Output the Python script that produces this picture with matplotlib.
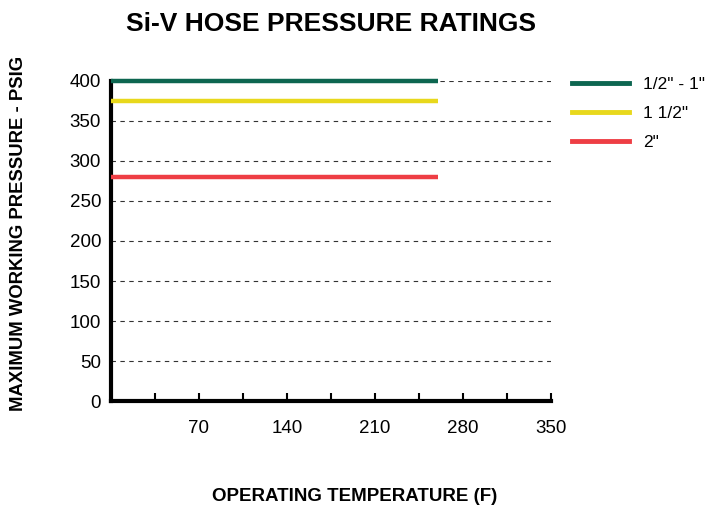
import matplotlib
matplotlib.use("Agg")
import matplotlib.pyplot as plt
from matplotlib.lines import Line2D

plt.rcParams['font.family'] = ['Liberation Sans', 'DejaVu Sans']

series_labels = ['1/2" - 1"', '1 1/2"', '2"']
series_values = [400, 375, 280]
series_colors = ['#0d6650', '#e8d81c', '#ee3e44']
temp_range = [0, 260]
x_ticks = [70, 140, 210, 280, 350]
x_minor = [35, 105, 175, 245, 315]
y_ticks = [0, 50, 100, 150, 200, 250, 300, 350, 400]

fig = plt.figure(figsize=(7.06, 5.08), dpi=100)
ax = fig.add_axes([0.157, 0.2106, 0.623, 0.63])

for v, c in zip(series_values, series_colors):
    ax.plot(temp_range, [v, v], color=c, lw=3.2, solid_capstyle='butt', zorder=3, clip_on=False)

for y in y_ticks[1:]:
    ax.axhline(y, color='#333333', lw=0.8, ls=(0, (4, 4)), zorder=1)

ax.set_xlim(0, 350)
ax.set_ylim(0, 400)
ax.set_xticks(x_ticks)
ax.set_xticks(x_minor, minor=True)
ax.set_yticks(y_ticks)
ax.tick_params(axis='x', which='both', direction='in', length=6, width=1.5, pad=14, labelsize=13.5)
ax.tick_params(axis='y', length=0, pad=7, labelsize=13.5)
for s in ['top', 'right']:
    ax.spines[s].set_visible(False)
for s in ['left', 'bottom']:
    ax.spines[s].set_linewidth(3)

fig.text(0.469, 0.953, 'Si-V HOSE PRESSURE RATINGS', ha='center', va='center',
         fontsize=19, fontweight='bold')
fig.text(0.503, 0.022, 'OPERATING TEMPERATURE (F)', ha='center', va='center',
         fontsize=13.5, fontweight='bold')
fig.text(0.026, 0.54, 'MAXIMUM WORKING PRESSURE - PSIG', ha='center', va='center',
         rotation=90, fontsize=13.3, fontweight='bold')

handles = [Line2D([0], [0], color=c, lw=3.5) for c in series_colors]
fig.legend(handles, series_labels, loc='upper left', bbox_to_anchor=(0.795, 0.87),
           frameon=False, fontsize=12.5, handlelength=3.3, labelspacing=0.8,
           handletextpad=0.8, borderaxespad=0.2)

fig.savefig('out.png', dpi=100)
